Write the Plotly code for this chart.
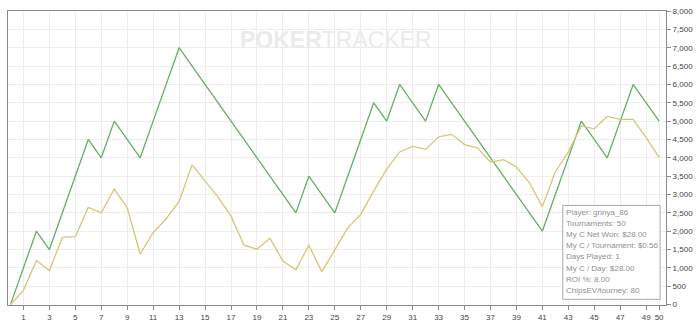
import plotly.graph_objects as go

tournaments = list(range(0, 51))
chips_won = [0, 1000, 2000, 1500, 2500, 3500, 4500, 4000, 5000, 4500,
             4000, 5000, 6000, 7000, 6500, 6000, 5500, 5000, 4500, 4000,
             3500, 3000, 2500, 3500, 3000, 2500, 3500, 4500, 5500, 5000,
             6000, 5500, 5000, 6000, 5500, 5000, 4500, 4000, 3500, 3000,
             2500, 2000, 3000, 4000, 5000, 4500, 4000, 5000, 6000, 5500,
             5000]
chips_ev = [0, 390, 1200, 930, 1830, 1850, 2650, 2500, 3150, 2640,
            1380, 1960, 2340, 2810, 3810, 3360, 2930, 2410, 1620, 1510,
            1810, 1190, 950, 1620, 900, 1490, 2090, 2460, 3100, 3690,
            4160, 4310, 4230, 4570, 4640, 4360, 4270, 3880, 3950, 3750,
            3320, 2670, 3620, 4160, 4870, 4790, 5130, 5050, 5050, 4550,
            4010]
x_ticks = list(range(1, 50, 2)) + [50]
y_ticks = list(range(0, 8001, 500))
stats_lines = ["Player: grinya_86", "Tournaments: 50", "My C Net Won: $28.00",
               "My C / Tournament: $0.56", "Days Played: 1", "My C / Day: $28.00",
               "ROI %: 8.00", "ChipsEV/tourney: 80"]

FONT = "Liberation Sans, Arial, sans-serif"

fig = go.Figure()
fig.add_trace(go.Scatter(x=tournaments, y=chips_won, mode="lines",
                         line=dict(color="#62b064", width=1.3), showlegend=False))
fig.add_trace(go.Scatter(x=tournaments, y=chips_ev, mode="lines",
                         line=dict(color="#d6c676", width=1.3), showlegend=False))

fig.update_layout(
    width=700, height=329,
    margin=dict(l=8, r=23, t=7, b=12),
    paper_bgcolor="white", plot_bgcolor="white",
    font=dict(family=FONT, size=8, color="#333"),
    xaxis=dict(range=[-0.19, 50.53], tickmode="array", tickvals=x_ticks,
               ticktext=[str(v) for v in x_ticks],
               showgrid=True, gridcolor="#ededed", gridwidth=1,
               showline=True, linecolor="#8a8a8a", linewidth=1, mirror=True,
               ticks="outside", ticklen=4, tickcolor="#8a8a8a",
               tickfont=dict(family=FONT, size=8, color="#444"), zeroline=False),
    yaxis=dict(range=[-10, 8000], side="right", tickmode="array", tickvals=y_ticks,
               tickformat=",", showgrid=True, gridcolor="#ededed", gridwidth=1,
               showline=True, linecolor="#8a8a8a", linewidth=1, mirror=True,
               ticks="outside", ticklen=4, tickcolor="#8a8a8a",
               tickfont=dict(family=FONT, size=8, color="#444"), zeroline=False),
)

def px_x(p):
    return (p - 8) / 669

def px_y(p):
    return (317 - p) / 310

# watermark
fig.add_annotation(xref="paper", yref="paper", x=px_x(341), y=px_y(38),
                   text="<b>POKER</b>TRACKER", showarrow=False,
                   font=dict(family=FONT, size=23, color="#ebebeb"),
                   xanchor="center", yanchor="middle")

# stats box
fig.add_shape(type="rect", xref="paper", yref="paper",
              x0=px_x(572), x1=px_x(671), y0=px_y(311), y1=px_y(212),
              line=dict(color="#a8a8a8", width=1), fillcolor="white", layer="above")
for i, line in enumerate(stats_lines):
    fig.add_annotation(xref="paper", yref="paper", x=px_x(573), y=px_y(219 + i * 11.8),
                       text=line, showarrow=False, xanchor="left", yanchor="middle",
                       font=dict(family=FONT, size=8, color="#8f8f8f"))

fig.write_html("out.html")
